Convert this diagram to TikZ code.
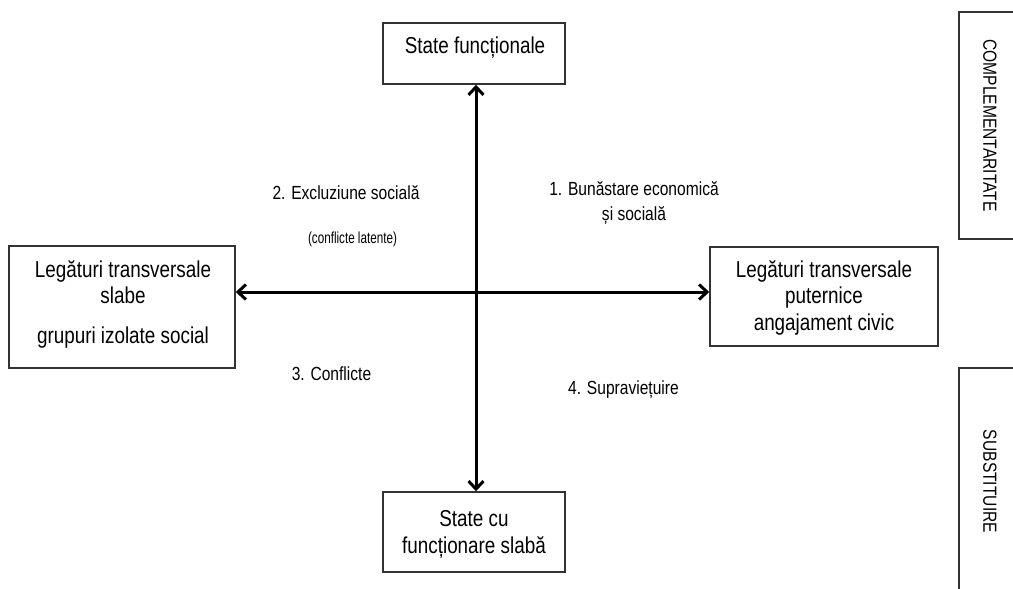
\documentclass[tikz,border=0pt]{standalone}
\usepackage{fontspec}
\setmainfont{Liberation Sans}[FakeStretch=0.82]
\usetikzlibrary{arrows.meta}

\tikzset{
  boxnode/.style={draw=black!80, line width=1.5pt, inner sep=0pt, fill=white},
  axisline/.style={line width=3pt,
    {Straight Barb[length=8pt,width=15pt]}-{Straight Barb[length=8pt,width=15pt]}},
  boxtext/.style={font=\fontsize{23}{26.5}\selectfont, align=center, inner sep=0pt, anchor=base},
  quadtext/.style={font=\fontsize{19}{25}\selectfont, align=center, inner sep=0pt, anchor=base},
  sidetext/.style={font=\fontsize{19}{22}\selectfont, inner sep=0pt, rotate=-90},
}

\begin{document}
\begin{tikzpicture}[x=1pt,y=-1pt]
  \fill[white] (0,0) rectangle (1013,589);
  \useasboundingbox (0,0) rectangle (1013,589);

  % the four state boxes
  \node[boxnode, minimum width=182pt, minimum height=61pt] (top) at (474,53.5) {};
  \node[boxnode, minimum width=182pt, minimum height=80pt] (bot) at (474,532) {};
  \node[boxnode, minimum width=226pt, minimum height=122pt] (left) at (122,307) {};
  \node[boxnode, minimum width=228pt, minimum height=99pt] (right) at (824,296.5) {};

  % box captions (base anchor sits on the last line)
  \node[boxtext] (toptxt) at (475,53) {State funcționale};
  \node[boxtext] (bottxt) at (474,553) {State cu\\funcționare slabă};
  \node[boxtext] (lefttxt) at (123,343) {Legături transversale\\slabe\\[13pt]grupuri izolate social};
  \node[boxtext] (righttxt) at (824,330) {Legături transversale\\puternice\\angajament civic};

  % side boxes, running past the right margin
  \node[boxnode, minimum width=82pt, minimum height=227pt] (compl) at (1000,125.5) {};
  \node[sidetext] (compltxt) at (990,125.5) {COMPLEMENTARITATE};
  \node[boxnode, minimum width=82pt, minimum height=252pt] (subst) at (1000,494) {};
  \node[sidetext] (substtxt) at (990,481.5) {SUBSTITUIRE};

  % the two axes
  \coordinate (o) at (476,292);
  \draw[axisline] (top.south -| o) -- (bot.north -| o);
  \draw[axisline] (left.east |- o) -- (right.west |- o);

  % quadrant labels
  \node[quadtext] (q1) at (634,220) {1. Bunăstare economică\\și socială};
  \node[quadtext] (q2) at (346,199) {2. Excluziune socială};
  \node[quadtext] (q2b) at (352.5,243) {\scalebox{0.89}[1]{\fontsize{16}{18}\selectfont(conflicte latente)}};
  \node[quadtext] (q3) at (331.5,380) {3. Conflicte};
  \node[quadtext] (q4) at (623.5,394) {4. Supraviețuire};
\end{tikzpicture}
\end{document}
